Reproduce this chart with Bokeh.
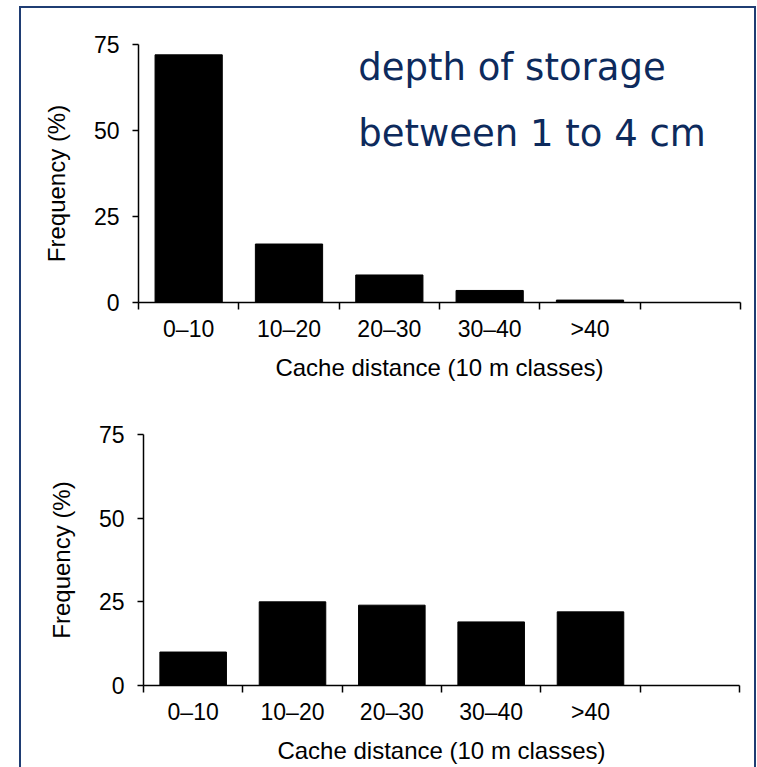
from bokeh.plotting import figure
from bokeh.models import FixedTicker, Range1d, Label
from bokeh.layouts import column
from bokeh.embed import file_html
from bokeh.resources import INLINE

# Cache-distance classes (10 m bins) and the frequency of caches in each
classes = ["0–10", "10–20", "20–30", "30–40", ">40"]
freq_upper = [72, 17, 8, 3.5, 0.7]
freq_lower = [10, 25, 24, 19, 22]
y_ticks = [0, 25, 50, 75]

FONT = "Liberation Sans"
NAVY = "#0d2a5c"
FRAME = "#1f3d73"


def make_panel(values, height, borders, ylabel):
    top, bottom, left, right = borders
    n_slots = len(classes) + 1  # one empty slot on the right
    p = figure(width=733, height=height,
               x_range=Range1d(-0.5, n_slots - 0.5), y_range=Range1d(0, 75),
               output_backend="svg", toolbar_location=None,
               min_border_top=top, min_border_bottom=bottom,
               min_border_left=left, min_border_right=right)
    p.outline_line_color = None
    p.xgrid.visible = False
    p.ygrid.visible = False
    p.background_fill_color = "white"
    p.border_fill_color = "white"

    centers = list(range(len(classes)))
    p.vbar(x=centers, top=values, bottom=0, width=0.67,
           fill_color="black", line_color="black", line_width=1)

    xa = p.xaxis[0]
    xa.ticker = FixedTicker(ticks=centers,
                            minor_ticks=[i - 0.5 for i in range(n_slots + 1)])
    xa.major_label_overrides = {c: lab for c, lab in zip(centers, classes)}
    xa.major_tick_in = 0
    xa.major_tick_out = 0
    xa.minor_tick_in = 0
    xa.minor_tick_out = 7
    xa.minor_tick_line_color = "black"
    xa.minor_tick_line_width = 1.5
    xa.axis_line_width = 1.5
    xa.axis_line_color = "black"
    xa.major_label_text_font = FONT
    xa.major_label_text_font_size = "23px"
    xa.major_label_text_color = "black"
    xa.major_label_standoff = 6
    xa.axis_label = "Cache distance (10 m classes)"
    xa.axis_label_text_font = FONT
    xa.axis_label_text_font_size = "24px"
    xa.axis_label_text_font_style = "normal"
    xa.axis_label_text_color = "black"
    xa.axis_label_standoff = 9

    ya = p.yaxis[0]
    ya.ticker = FixedTicker(ticks=y_ticks, minor_ticks=[])
    ya.major_tick_in = 0
    ya.major_tick_out = 6
    ya.major_tick_line_width = 1.5
    ya.major_tick_line_color = "black"
    ya.axis_line_width = 1.5
    ya.axis_line_color = "black"
    ya.major_label_text_font = FONT
    ya.major_label_text_font_size = "23px"
    ya.major_label_text_color = "black"
    ya.major_label_standoff = 13
    ya.axis_label = ylabel
    ya.axis_label_text_font = FONT
    ya.axis_label_text_font_size = "24px"
    ya.axis_label_text_font_style = "normal"
    ya.axis_label_text_color = "black"
    ya.axis_label_standoff = 21
    return p


# the upper panel's axis title sits a little below the middle of its axis
p1 = make_panel(freq_upper, 382, (36, 88, 117, 14), "Frequency (%)" + "\u00a0" * 3)
p2 = make_panel(freq_lower, 377, (44, 82, 122, 15), "Frequency (%)")

for txt, yb in (("depth of storage", 68.3), ("between 1 to 4 cm", 49.2)):
    p1.add_layout(Label(x=1.69, y=yb, text=txt, text_font="DejaVu Sans",
                        text_font_size="37px", text_color=NAVY,
                        text_baseline="alphabetic", text_align="left"))

# Frame around the page: top, left and right edges drawn as outer shadows
c = FRAME
frame_edges = ", ".join([
    f"-2px 0 0 0 {c}", f"2px 0 0 0 {c}", f"0 -2px 0 0 {c}",
    f"-2px -2px 0 0 {c}", f"2px -2px 0 0 {c}",
])
# each panel sits in its own box so that their plot areas are placed independently
layout = column(column(p1), column(p2), styles={
    "margin-left": "21px", "margin-top": "8px", "box-shadow": frame_edges,
})

open("out.html", "w").write(file_html(layout, INLINE))
